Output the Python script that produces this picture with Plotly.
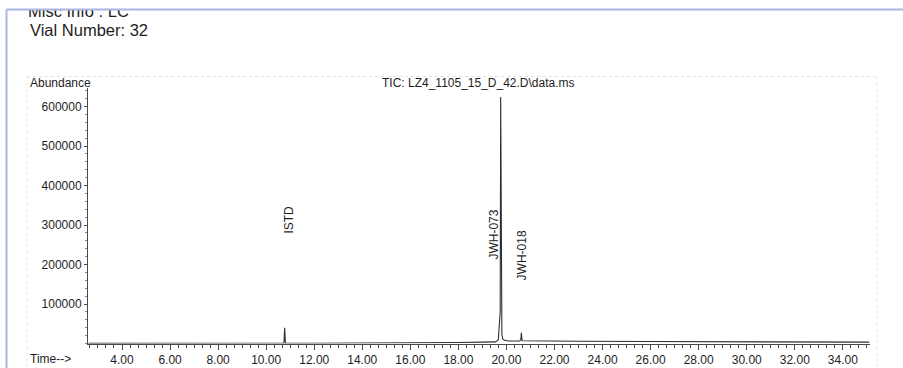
import plotly.graph_objects as go

# ---- data ----
time_min = [2.6, 6.0, 10.74, 10.77, 10.80, 12.0, 14.0, 16.0, 17.0, 18.0, 19.0, 19.55,
            19.66, 19.71, 19.74, 19.76, 19.78, 19.81, 19.85, 19.92, 20.10, 20.55,
            20.60, 20.62, 20.65, 21.5, 23.0, 26.0, 29.0, 32.0, 35.1]
abundance = [300, 400, 500, 40000, 700, 600, 800, 1200, 1800, 2500, 3500, 4200,
             9000, 45000, 80000, 624000, 75000, 22000, 11000, 8000, 6500, 6200,
             10000, 27000, 7000, 6200, 5600, 5000, 4500, 4000, 3500]

peak_names = ["ISTD", "JWH-073", "JWH-018"]
peak_times = [10.77, 19.76, 20.62]

y_ticks = [100000, 200000, 300000, 400000, 500000, 600000]
x_ticks = [4, 6, 8, 10, 12, 14, 16, 18, 20, 22, 24, 26, 28, 30, 32, 34]

title_text = "TIC: LZ4_1105_15_D_42.D\\data.ms"
header_line1 = "Misc Info : LC"
header_line2 = "Vial Number: 32"

# ---- layout geometry (pixels) ----
W, H = 903, 368
PL, PR, PT, PB = 88, 870, 88, 343.5
def px(x):
    return x / W
def py(y):
    return 1 - y / H

FONT = "Liberation Sans, Arial, sans-serif"
TXT = "#1e1e1e"
AX = "#4a4a4a"

fig = go.Figure()
fig.add_trace(go.Scatter(x=time_min, y=abundance, mode="lines",
                         line=dict(color="#2e2e2e", width=1.1),
                         hoverinfo="skip", showlegend=False))

# clipped header text (top line cut by the page edge)
fig.add_trace(go.Scatter(x=[0], y=[0], mode="text", text=[header_line1],
                         textposition="middle right",
                         textfont=dict(family=FONT, size=16.5, color=TXT),
                         cliponaxis=True, xaxis="x2", yaxis="y2",
                         hoverinfo="skip", showlegend=False))

fig.update_layout(
    width=W, height=H,
    margin=dict(l=0, r=0, t=0, b=0),
    paper_bgcolor="white", plot_bgcolor="white",
    font=dict(family=FONT, color=TXT, size=12),
    xaxis=dict(domain=[px(PL), px(PR)], range=[2.585, 35.13],
               tickvals=x_ticks, ticktext=[f"{v:.2f}" for v in x_ticks],
               ticks="outside", ticklen=5, tickwidth=1, tickcolor=AX,
               showline=True, linecolor=AX, linewidth=1,
               showgrid=False, zeroline=False,
               minor=dict(tick0=4, dtick=1/3, ticks="outside", ticklen=3,
                          tickcolor=AX, showgrid=False),
               tickfont=dict(family=FONT, size=12, color=TXT)),
    yaxis=dict(domain=[py(PB), py(PT)], range=[0, 647000],
               tickvals=y_ticks, ticktext=[str(v) for v in y_ticks],
               ticks="outside", ticklen=3, tickwidth=1, tickcolor=AX,
               showline=True, linecolor=AX, linewidth=1,
               showgrid=False, zeroline=False,
               minor=dict(dtick=20000, ticks="outside", ticklen=2,
                          tickcolor="#888", showgrid=False),
               tickfont=dict(family=FONT, size=12, color=TXT)),
    xaxis2=dict(domain=[px(20), px(300)], range=[-8, 272], visible=False,
                anchor="y2", fixedrange=True),
    yaxis2=dict(domain=[py(40), py(10)], range=[-30, 3.5], visible=False,
                anchor="x2", fixedrange=True),
)

ann = []
ann.append(dict(x=px(28), y=py(30), xref="paper", yref="paper", text=header_line2,
                showarrow=False, xanchor="left", yanchor="middle",
                font=dict(family=FONT, size=16.5, color=TXT)))
ann.append(dict(x=px(28), y=py(83), xref="paper", yref="paper", text="Abundance",
                showarrow=False, xanchor="left", yanchor="middle",
                font=dict(family=FONT, size=12, color=TXT)))
ann.append(dict(x=px(28), y=py(359), xref="paper", yref="paper", text="Time-->",
                showarrow=False, xanchor="left", yanchor="middle",
                font=dict(family=FONT, size=12, color=TXT)))
ann.append(dict(x=px(479), y=py(83), xref="paper", yref="paper", text=title_text,
                showarrow=False, xanchor="center", yanchor="middle",
                font=dict(family=FONT, size=12, color=TXT)))

label_y = [313000, 275000, 224000]
label_dx = [4, -7, 1]
for name, t, ly, dx in zip(peak_names, peak_times, label_y, label_dx):
    ann.append(dict(x=t, y=ly, xref="x", yref="y", text=name, textangle=-90,
                    showarrow=False, xanchor="center", yanchor="middle", xshift=dx,
                    font=dict(family=FONT, size=12, color=TXT)))
fig.update_layout(annotations=ann)

# page border (blue) and faint scan frame
shapes = [
    dict(type="line", xref="paper", yref="paper", x0=px(6.5), x1=px(903),
         y0=py(9.5), y1=py(9.5), line=dict(color="#a9b5e2", width=2)),
    dict(type="line", xref="paper", yref="paper", x0=px(6.5), x1=px(6.5),
         y0=py(9.5), y1=py(368), line=dict(color="#a9b5e2", width=2)),
    dict(type="line", xref="paper", yref="paper", x0=px(27), x1=px(877),
         y0=py(76.5), y1=py(76.5), line=dict(color="#e2e2e2", width=1, dash="dot")),
    dict(type="line", xref="paper", yref="paper", x0=px(27), x1=px(27),
         y0=py(76.5), y1=py(368), line=dict(color="#e6e6e6", width=1, dash="dot")),
    dict(type="line", xref="paper", yref="paper", x0=px(877), x1=px(877),
         y0=py(76.5), y1=py(368), line=dict(color="#e6e6e6", width=1, dash="dot")),
]
fig.update_layout(shapes=shapes)

fig.write_html("out.html",
               config={"displayModeBar": False, "staticPlot": True},
               post_script="document.body.style.margin='0';document.body.style.overflow='hidden';")
